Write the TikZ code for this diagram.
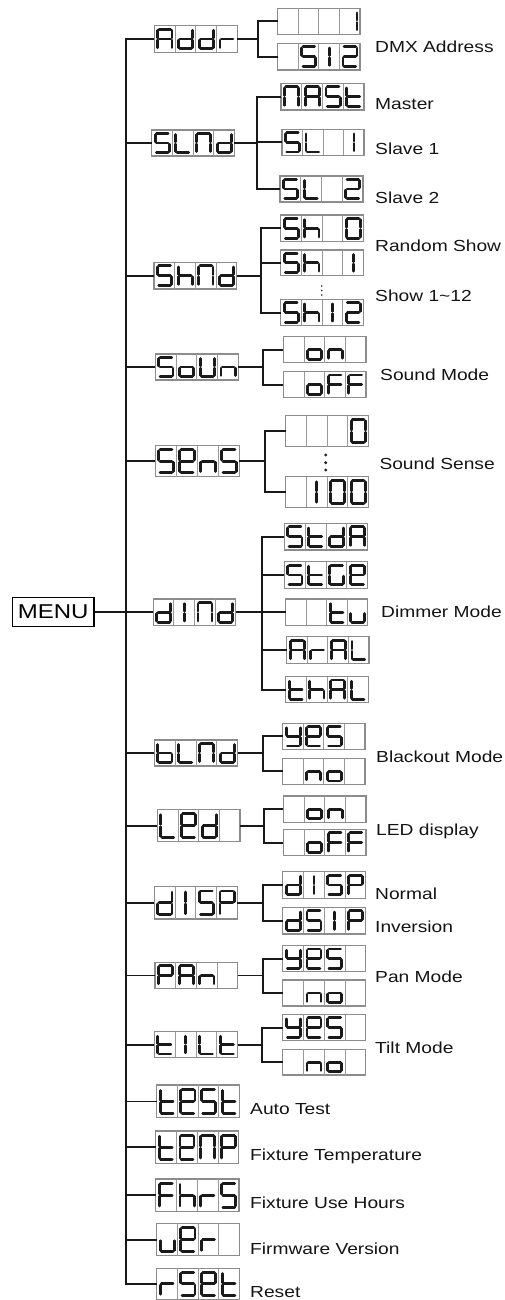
\documentclass[tikz,border=0pt]{standalone}
\usepackage{fontspec}
\newfontfamily\labfont[FakeStretch=1.2]{Liberation Sans}
\tikzset{
  lcdframe/.style={draw=black!45, line width=1.1pt, inner sep=0pt, outer sep=0pt, rectangle, fill=white},
  lcdgrid/.style={draw=black!40, line width=0.9pt},
  seg/.style={line width=2.8pt, line cap=round, draw=black!90, shorten >=1.2pt, shorten <=1.2pt},
  conn/.style={line width=2pt, draw=black!90},
  thinconn/.style={line width=1.1pt, draw=black!90},
  lab/.style={anchor=base west, inner sep=0pt, font=\labfont\fontsize{16}{19}\selectfont, text=black!92},
  menubox/.style={draw=black, line width=1.3pt, inner sep=0pt, minimum width=81.7pt, minimum height=29.4pt, font=\labfont\fontsize{20}{24}\selectfont},
}
% segments in normalised cell coordinates
\def\sga{\draw[seg] (0.17,0.13) -- (0.85,0.13);}
\def\sgb{\draw[seg] (0.85,0.13) -- (0.85,0.5);}
\def\sgc{\draw[seg] (0.85,0.5) -- (0.85,0.87);}
\def\sgd{\draw[seg] (0.17,0.87) -- (0.85,0.87);}
\def\sge{\draw[seg] (0.17,0.5) -- (0.17,0.87);}
\def\sgf{\draw[seg] (0.17,0.13) -- (0.17,0.5);}
\def\sgg{\draw[seg] (0.17,0.5) -- (0.85,0.5);}
\def\sgk{\draw[seg] (0.51,0.13) -- (0.51,0.5);}
\def\sgl{\draw[seg] (0.51,0.5) -- (0.51,0.87);}
\def\sgz{}
\def\defg#1#2{\expandafter\def\csname g#1\endcsname{#2}}
\defg{-}{z}
\defg{A}{a,b,c,e,f,g}
\defg{d}{b,c,d,e,g}
\defg{r}{e,g}
\defg{1}{b,c}
\defg{I}{k,l}
\defg{S}{a,f,g,c,d}
\defg{2}{a,b,g,e,d}
\defg{L}{d,e,f}
\defg{N}{a,b,c,e,f}
\defg{t}{d,e,f,g}
\defg{h}{c,e,f,g}
\defg{0}{a,b,c,d,e,f}
\defg{o}{c,d,e,g}
\defg{n}{c,e,g}
\defg{U}{b,c,d,e,f}
\defg{F}{a,e,f,g}
\defg{e}{a,b,d,e,f,g}
\defg{y}{b,c,d,f,g}
\defg{b}{c,d,e,f,g}
\defg{P}{a,b,e,f,g}
\defg{G}{a,c,d,e,f}
\defg{u}{c,d,e}
\def\drawglyph#1{\edef\glist{\csname g#1\endcsname}\foreach \s in \glist {\csname sg\s\endcsname}}
\newcommand\lcd[9]{%
  \pgfmathsetmacro\lcdW{#4-#2}%
  \pgfmathsetmacro\lcdH{#5-#3}%
  \pgfmathsetmacro\lcdC{\lcdW/4}%
  \node[lcdframe, minimum width=\lcdW pt, minimum height=\lcdH pt, anchor=north west] (#1) at (#2,#3) {};
  \foreach \k in {1,2,3} {\draw[lcdgrid] ({#2+\k*\lcdC},#3) -- ++(0,\lcdH);}
  \foreach \k/\lcdg in {0/#6,1/#7,2/#8,3/#9} {
    \begin{scope}[shift={({#2+\k*\lcdC},#3)}, xscale=\lcdC, yscale=\lcdH]
      \drawglyph{\lcdg}
    \end{scope}
  }
}
\newcommand\branch[4]{% parent, x, first child, last child
  \coordinate (#1br) at (#2,0);
  \draw[conn] (#1.east) -- (#1.east -| #1br);
  \draw[conn] (#3.west) -- (#3.west -| #1br) -- (#4.west -| #1br) -- (#4.west);
}
\begin{document}
\begin{tikzpicture}[x=1pt, y=-1pt]
\useasboundingbox (0,0) rectangle (504,1300);
\coordinate (T) at (126,0);
% ---- displays
\lcd{addr}{154.3}{25.7}{237.3}{52.3}{A}{d}{d}{r}
\lcd{addrA}{277.7}{8.3}{360}{34.3}{-}{-}{-}{1}
\lcd{addrB}{277.7}{43.3}{360}{70}{-}{S}{I}{2}
\lcd{slnd}{151.7}{130}{234.3}{156}{S}{L}{N}{d}
\lcd{mast}{281}{83.3}{364}{110}{N}{A}{S}{t}
\lcd{slA}{282}{129.3}{364}{155.3}{S}{L}{-}{I}
\lcd{slB}{280}{176}{363}{202}{S}{L}{-}{2}
\lcd{shnd}{154}{262.3}{236.7}{289}{S}{h}{N}{d}
\lcd{shA}{280.7}{215}{363.3}{241.7}{S}{h}{-}{0}
\lcd{shB}{280.7}{250}{363.3}{275.7}{S}{h}{-}{I}
\lcd{shC}{280.7}{299.3}{363.3}{325.7}{S}{h}{I}{2}
\lcd{soun}{155.3}{354}{238.3}{380}{S}{o}{U}{n}
\lcd{sonA}{283.3}{336.7}{366}{362.7}{-}{o}{n}{-}
\lcd{sonB}{283.3}{371.7}{366}{397.7}{-}{o}{F}{F}
\lcd{sens}{155.3}{445.7}{239.3}{476.7}{S}{e}{n}{S}
\lcd{senA}{285.7}{415.7}{368.3}{446.7}{-}{-}{-}{0}
\lcd{senB}{285.7}{476.7}{368.3}{507.3}{-}{I}{0}{0}
\lcd{dind}{153.3}{599}{235.7}{625.7}{d}{I}{N}{d}
\lcd{dimA}{284.3}{523.3}{367.7}{550}{S}{t}{d}{A}
\lcd{dimB}{284.3}{561.7}{367.7}{588.3}{S}{t}{G}{e}
\lcd{dimC}{285.7}{599}{367.7}{625.7}{-}{-}{t}{u}
\lcd{dimD}{286.7}{636.7}{369}{663.3}{A}{r}{A}{L}
\lcd{dimE}{285.7}{676.7}{368.3}{702.7}{t}{h}{A}{L}
\lcd{blnd}{154.3}{740}{237.7}{766}{b}{L}{N}{d}
\lcd{blA}{282.7}{723.3}{365}{749.3}{y}{e}{S}{-}
\lcd{blB}{282.7}{758.3}{365}{784.3}{-}{n}{o}{-}
\lcd{led}{157.3}{809.3}{240}{841.7}{L}{e}{d}{-}
\lcd{ledA}{283.3}{796}{366}{822.3}{-}{o}{n}{-}
\lcd{ledB}{283.3}{829.3}{366}{855.7}{-}{o}{F}{F}
\lcd{disp}{154.3}{886.7}{237.3}{919}{d}{I}{S}{P}
\lcd{dspA}{282.7}{871.7}{365.7}{898.3}{d}{I}{S}{P}
\lcd{dspB}{282.7}{907.3}{365.7}{934}{d}{S}{I}{P}
\lcd{pan}{155}{962.3}{237.7}{988.3}{P}{A}{n}{-}
\lcd{panA}{282.7}{945.7}{365.7}{971.7}{y}{e}{S}{-}
\lcd{panB}{282.7}{980}{365.7}{1006}{-}{n}{o}{-}
\lcd{tilt}{154.3}{1031.7}{237.7}{1057.3}{t}{I}{L}{t}
\lcd{tlA}{282.7}{1014.3}{365.7}{1040.7}{y}{e}{S}{-}
\lcd{tlB}{282.7}{1049.3}{365.7}{1075}{-}{n}{o}{-}
\lcd{test}{156.7}{1085}{239.3}{1117.7}{t}{e}{S}{t}
\lcd{temp}{155.7}{1131}{238.7}{1163.3}{t}{e}{N}{P}
\lcd{fhrs}{155.7}{1179}{239}{1211.3}{F}{h}{r}{S}
\lcd{ver}{156.7}{1223.3}{239.3}{1255.7}{u}{e}{r}{-}
\lcd{rset}{156.7}{1268.3}{239.3}{1299.4}{r}{S}{e}{t}
% ---- MENU and trunk
\node[menubox] (menu) at (53.15,612) {MENU};
\draw[conn] (menu.east) -- (menu.east -| T);
\draw[conn] (addr.west) -- (addr.west -| T) -- (rset.west -| T) -- (rset.west);
\foreach \n in {slnd,shnd,soun,sens,dind,led,disp,tilt,temp,fhrs,ver}
  {\draw[conn] (\n.west) -- (\n.west -| T);}
\foreach \n in {blnd,pan,test}
  {\draw[thinconn] (\n.west) -- (\n.west -| T);}
% ---- branches
\branch{addr}{258}{addrA}{addrB}
\branch{slnd}{256.7}{mast}{slB}
\draw[conn] (slA.west) -- (slA.west -| slndbr);
\branch{shnd}{261}{shA}{shC}
\draw[conn] (shB.west) -- (shB.west -| shndbr);
\branch{soun}{262.7}{sonA}{sonB}
\branch{sens}{265}{senA}{senB}
\branch{dind}{261.7}{dimA}{dimE}
\foreach \n in {dimB,dimC,dimD} {\draw[conn] (\n.west) -- (\n.west -| dindbr);}
\coordinate (blndbr) at (263.3,0);
\draw[thinconn] (blnd.east) -- (blnd.east -| blndbr);
\draw[conn] (blA.west) -- (blA.west -| blndbr) -- (blB.west -| blndbr) -- (blB.west);
\branch{led}{264.3}{ledA}{ledB}
\branch{disp}{262.7}{dspA}{dspB}
\coordinate (panbr) at (262.7,0);
\draw[thinconn] (pan.east) -- (pan.east -| panbr);
\draw[conn] (panA.west) -- (panA.west -| panbr) -- (panB.west -| panbr) -- (panB.west);
\branch{tilt}{261.7}{tlA}{tlB}
% ---- dots
\foreach \yy in {286,290.5,295} {\fill[black!85] (321.7,\yy) circle[radius=0.9pt];}
\foreach \yy in {455,462.7,470} {\fill[black!85] (325.7,\yy) circle[radius=1.7pt];}
% ---- labels
\node[lab] (l1) at (375,52.3) {DMX Address};
\node[lab] (l2) at (375,110) {Master};
\node[lab] (l3) at (375,155) {Slave 1};
\node[lab] (l4) at (375,203.3) {Slave 2};
\node[lab] (l5) at (375,251.7) {Random Show};
\node[lab] (l6) at (375,301) {Show 1\textasciitilde12};
\node[lab] (l7) at (380,380) {Sound Mode};
\node[lab] (l8) at (379.3,469) {Sound Sense};
\node[lab] (l9) at (381,617.7) {Dimmer Mode};
\node[lab] (l10) at (376,762.7) {Blackout Mode};
\node[lab] (l11) at (376,835) {LED display};
\node[lab] (l12) at (375,899.3) {Normal};
\node[lab] (l13) at (375,932) {Inversion};
\node[lab] (l14) at (375,982) {Pan Mode};
\node[lab] (l15) at (375,1053.3) {Tilt Mode};
\node[lab] (l16) at (250,1114.7) {Auto Test};
\node[lab] (l17) at (250,1160) {Fixture Temperature};
\node[lab] (l18) at (250,1208) {Fixture Use Hours};
\node[lab] (l19) at (250,1254.3) {Firmware Version};
\node[lab] (l20) at (250,1297.3) {Reset};
\end{tikzpicture}
\end{document}
